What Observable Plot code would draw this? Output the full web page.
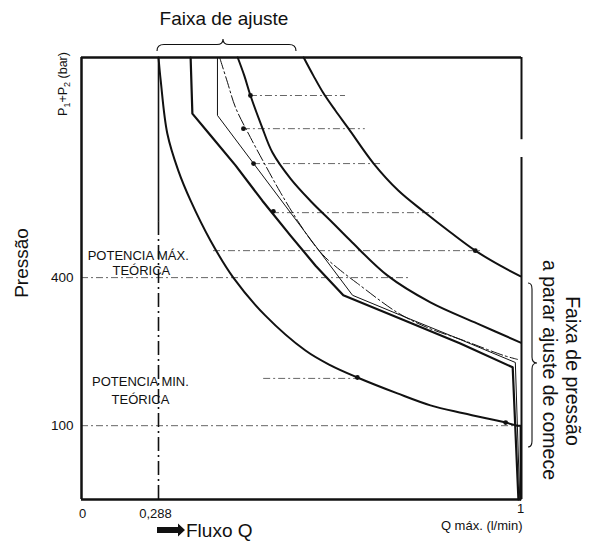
<!DOCTYPE html>
<html><head><meta charset="utf-8">
<script src="https://cdn.jsdelivr.net/npm/d3@7"></script>
<script src="https://cdn.jsdelivr.net/npm/@observablehq/plot@0.6"></script>
<style>body{margin:0;background:#fff}</style>
</head><body><div id="chart"></div>
<script>
const FONT = '"Liberation Sans", Arial, Helvetica, sans-serif';

// Axis ticks (schematic axis: positions in % of axis length)
const xTicks = [0, 17.5, 100];
const xTickLabels = ["0", "0,288", "1"];
const yTicks = [16.7, 50.2];
const yTickLabels = ["100", "400"];

// Curves: [Q (% of Qmax axis), P (% of pressure axis)]
const curveA = [[17.5,100],[18.0,94.8],[19.5,82.8],[22.0,74.4],[24.8,67.6],[29.3,58.6],[34.5,50.2],[41.8,41.6],[50.9,33.7],[56.5,30.4],[62.7,27.6],[71.8,24.0],[79.3,21.3],[86.8,19.5],[96.4,17.4],[99.1,16.7]];
const curveAdrop = [[99.1,16.7],[99.8,16.7],[99.8,0]];
const curveB = [[24.8,100],[25.2,87.3],[29.3,82.4],[35.0,75.6],[41.1,67.6],[47.5,59.7],[53.2,52.9],[59.5,46.2],[72.5,40.9],[86.1,35.3],[98.0,29.9],[99.3,0]];
const curveC = [[30.9,100],[30.9,86.9],[61.6,46.2],[72.5,41.7],[86.1,36.2],[98.6,31.0],[99.6,0]];
const curveD = [[31.4,100],[33.2,94.3],[35.0,88.7],[38.4,81.9],[41.8,75.6],[45.2,69.5],[49.1,63.1],[52.7,57.9],[55.5,54.7],[58.9,51.8],[62.7,48.9],[71.8,42.3],[78.6,38.9],[86.8,36.0],[95.9,32.6],[99.1,31.7]];
const curveE = [[35.5,100],[37.0,95.9],[38.4,91.4],[40.9,84.6],[43.4,78.5],[47.5,72.6],[52.0,67.6],[57.3,62.4],[61.1,58.6],[69.5,50.7],[79.3,44.6],[90.0,39.8],[99.8,35.5]];
const curveF = [[50.5,100],[52.7,95.9],[55.0,91.9],[57.7,88.0],[60.7,83.9],[66.4,76.0],[72.0,69.9],[77.7,65.2],[83.9,60.4],[89.5,56.3],[95.2,52.9],[99.8,50.5]];

// Horizontal dash-dot reference lines
const hDashY  = [91.4, 83.9, 76.0, 64.9, 56.3, 50.2, 27.4, 16.7];
const hDashX1 = [38.4, 36.8, 39.1, 43.4, 30.0, 0,    41.4, 0];
const hDashX2 = [60.0, 64.5, 68.0, 80.9, 90.7, 74.8, 62.7, 100];
const hDash = hDashY.map((y, i) => ({y, x1: hDashX1[i], x2: hDashX2[i]}));

// Marked points
const dots = [[38.4,91.4],[36.8,83.9],[39.1,76.0],[43.6,65.2],[89.5,56.3],[62.7,27.6],[96.4,17.4]];

const qLineSolidTo = 62.7;
const rightGap = [77.4, 81.4];

const XY = {x: d => d[0], y: d => d[1]};
const ink = "#111";

const plot = Plot.plot({
  width: 592, height: 541,
  marginLeft: 81, marginRight: 71, marginTop: 57, marginBottom: 42,
  style: {fontFamily: FONT, background: "white", color: ink},
  x: {domain: [0, 100], axis: null},
  y: {domain: [0, 100], axis: null},
  marks: [
    Plot.ruleY(hDash, {y: "y", x1: "x1", x2: "x2", stroke: "#666", strokeWidth: 1, strokeDasharray: "7,3,2,3"}),
    Plot.ruleX([xTicks[1]], {y1: qLineSolidTo, y2: 100, stroke: ink, strokeWidth: 1.6}),
    Plot.ruleX([xTicks[1]], {y1: 0, y2: qLineSolidTo, stroke: ink, strokeWidth: 1.6, strokeDasharray: "14,4,2,4"}),
    Plot.line(curveA, {...XY, curve: "catmull-rom", stroke: ink, strokeWidth: 2}),
    Plot.line(curveAdrop, {...XY, stroke: ink, strokeWidth: 2}),
    Plot.line(curveB, {...XY, stroke: ink, strokeWidth: 2.2}),
    Plot.line(curveC, {...XY, stroke: ink, strokeWidth: 1}),
    Plot.line(curveD, {...XY, curve: "catmull-rom", stroke: ink, strokeWidth: 1, strokeDasharray: "12,3,2,3"}),
    Plot.line(curveE, {...XY, curve: "catmull-rom", stroke: ink, strokeWidth: 2}),
    Plot.line(curveF, {...XY, curve: "catmull-rom", stroke: ink, strokeWidth: 2}),
    Plot.dot(dots, {...XY, r: 2.4, fill: ink}),
    // frame
    Plot.ruleX([0], {y1: 0, y2: 100, stroke: ink, strokeWidth: 2.5}),
    Plot.ruleY([0], {x1: 0, x2: 100, stroke: ink, strokeWidth: 2.5}),
    Plot.ruleY([100], {x1: 0, x2: 100, stroke: ink, strokeWidth: 2.5}),
    Plot.ruleX([100], {y1: rightGap[1], y2: 100, stroke: ink, strokeWidth: 2}),
    Plot.ruleX([100], {y1: 0, y2: rightGap[0], stroke: ink, strokeWidth: 2}),
    // tick labels
    Plot.text([xTickLabels[0]], {x: [xTicks[0]], frameAnchor: "bottom", lineAnchor: "bottom", dy: 18, dx: 1, fontSize: 13, fill: ink}),
    Plot.text([xTickLabels[1]], {x: [xTicks[1]], frameAnchor: "bottom", lineAnchor: "bottom", dy: 18, dx: -3, fontSize: 13, fill: ink}),
    Plot.text([xTickLabels[2]], {x: [xTicks[2]], frameAnchor: "bottom", lineAnchor: "bottom", dy: 13, dx: -1, fontSize: 13, fill: ink}),
    Plot.text(["Q máx. (l/min)"], {x: [100], frameAnchor: "bottom", lineAnchor: "bottom", textAnchor: "end", dy: 30, dx: 1, fontSize: 13, fill: ink}),
    Plot.text(yTickLabels, {y: yTicks, frameAnchor: "left", textAnchor: "end", dx: -8, fontSize: 13.5, fill: ink}),
    // in-chart labels
    Plot.text(["POTENCIA MÁX.", "TEÓRICA"], {x: [12.9, 13.6], y: [55.2, 51.8], fontSize: 13, fill: ink}),
    Plot.text(["POTENCIA MIN.", "TEÓRICA"], {x: [13.4, 13.4], y: [26.7, 22.6], fontSize: 13, fill: ink})
  ]
});

document.getElementById("chart").appendChild(plot);
const svg = d3.select(plot);
const g = svg.append("g").attr("font-family", FONT).attr("fill", ink);

g.append("text").attr("x", 224).attr("y", 25).attr("text-anchor", "middle").attr("font-size", 19).text("Faixa de ajuste");
g.append("path").attr("fill", "none").attr("stroke", ink).attr("stroke-width", 1.1)
  .attr("d", "M157,51 Q157,44.5 164,44.5 L217,44.5 Q223,44.5 223,39 Q223,44.5 229,44.5 L289,44.5 Q296,44.5 296,51");

g.append("text").attr("transform", "translate(28,263) rotate(-90)").attr("text-anchor", "middle").attr("font-size", 19).text("Pressão");

const pt = g.append("text").attr("transform", "translate(67,84) rotate(-90)").attr("text-anchor", "middle").attr("font-size", 12.5);
pt.append("tspan").text("P");
pt.append("tspan").attr("dy", 3).attr("font-size", 9).text("1");
pt.append("tspan").attr("dy", -3).text("+P");
pt.append("tspan").attr("dy", 3).attr("font-size", 9).text("2");
pt.append("tspan").attr("dy", -3).text(" (bar)");

g.append("text").attr("transform", "translate(566,371) rotate(90)").attr("text-anchor", "middle").attr("font-size", 19.5).text("Faixa de pressão");
g.append("text").attr("transform", "translate(543,370) rotate(90)").attr("text-anchor", "middle").attr("font-size", 19.5).text("a parar ajuste de comece");
g.append("path").attr("fill", "none").attr("stroke", ink).attr("stroke-width", 1.1)
  .attr("d", "M528,283 Q532,283 532,289 L532,357 Q532,363 537,363 Q532,363 532,369 L532,441 Q532,447 528,447");

g.append("path").attr("fill", ink).attr("d", "M157,527 L178,527 L178,523.5 L185,530 L178,536.5 L178,533 L157,533 Z");
g.append("text").attr("x", 186).attr("y", 537).attr("text-anchor", "start").attr("font-size", 19).text("Fluxo Q");
</script>
</body></html>
